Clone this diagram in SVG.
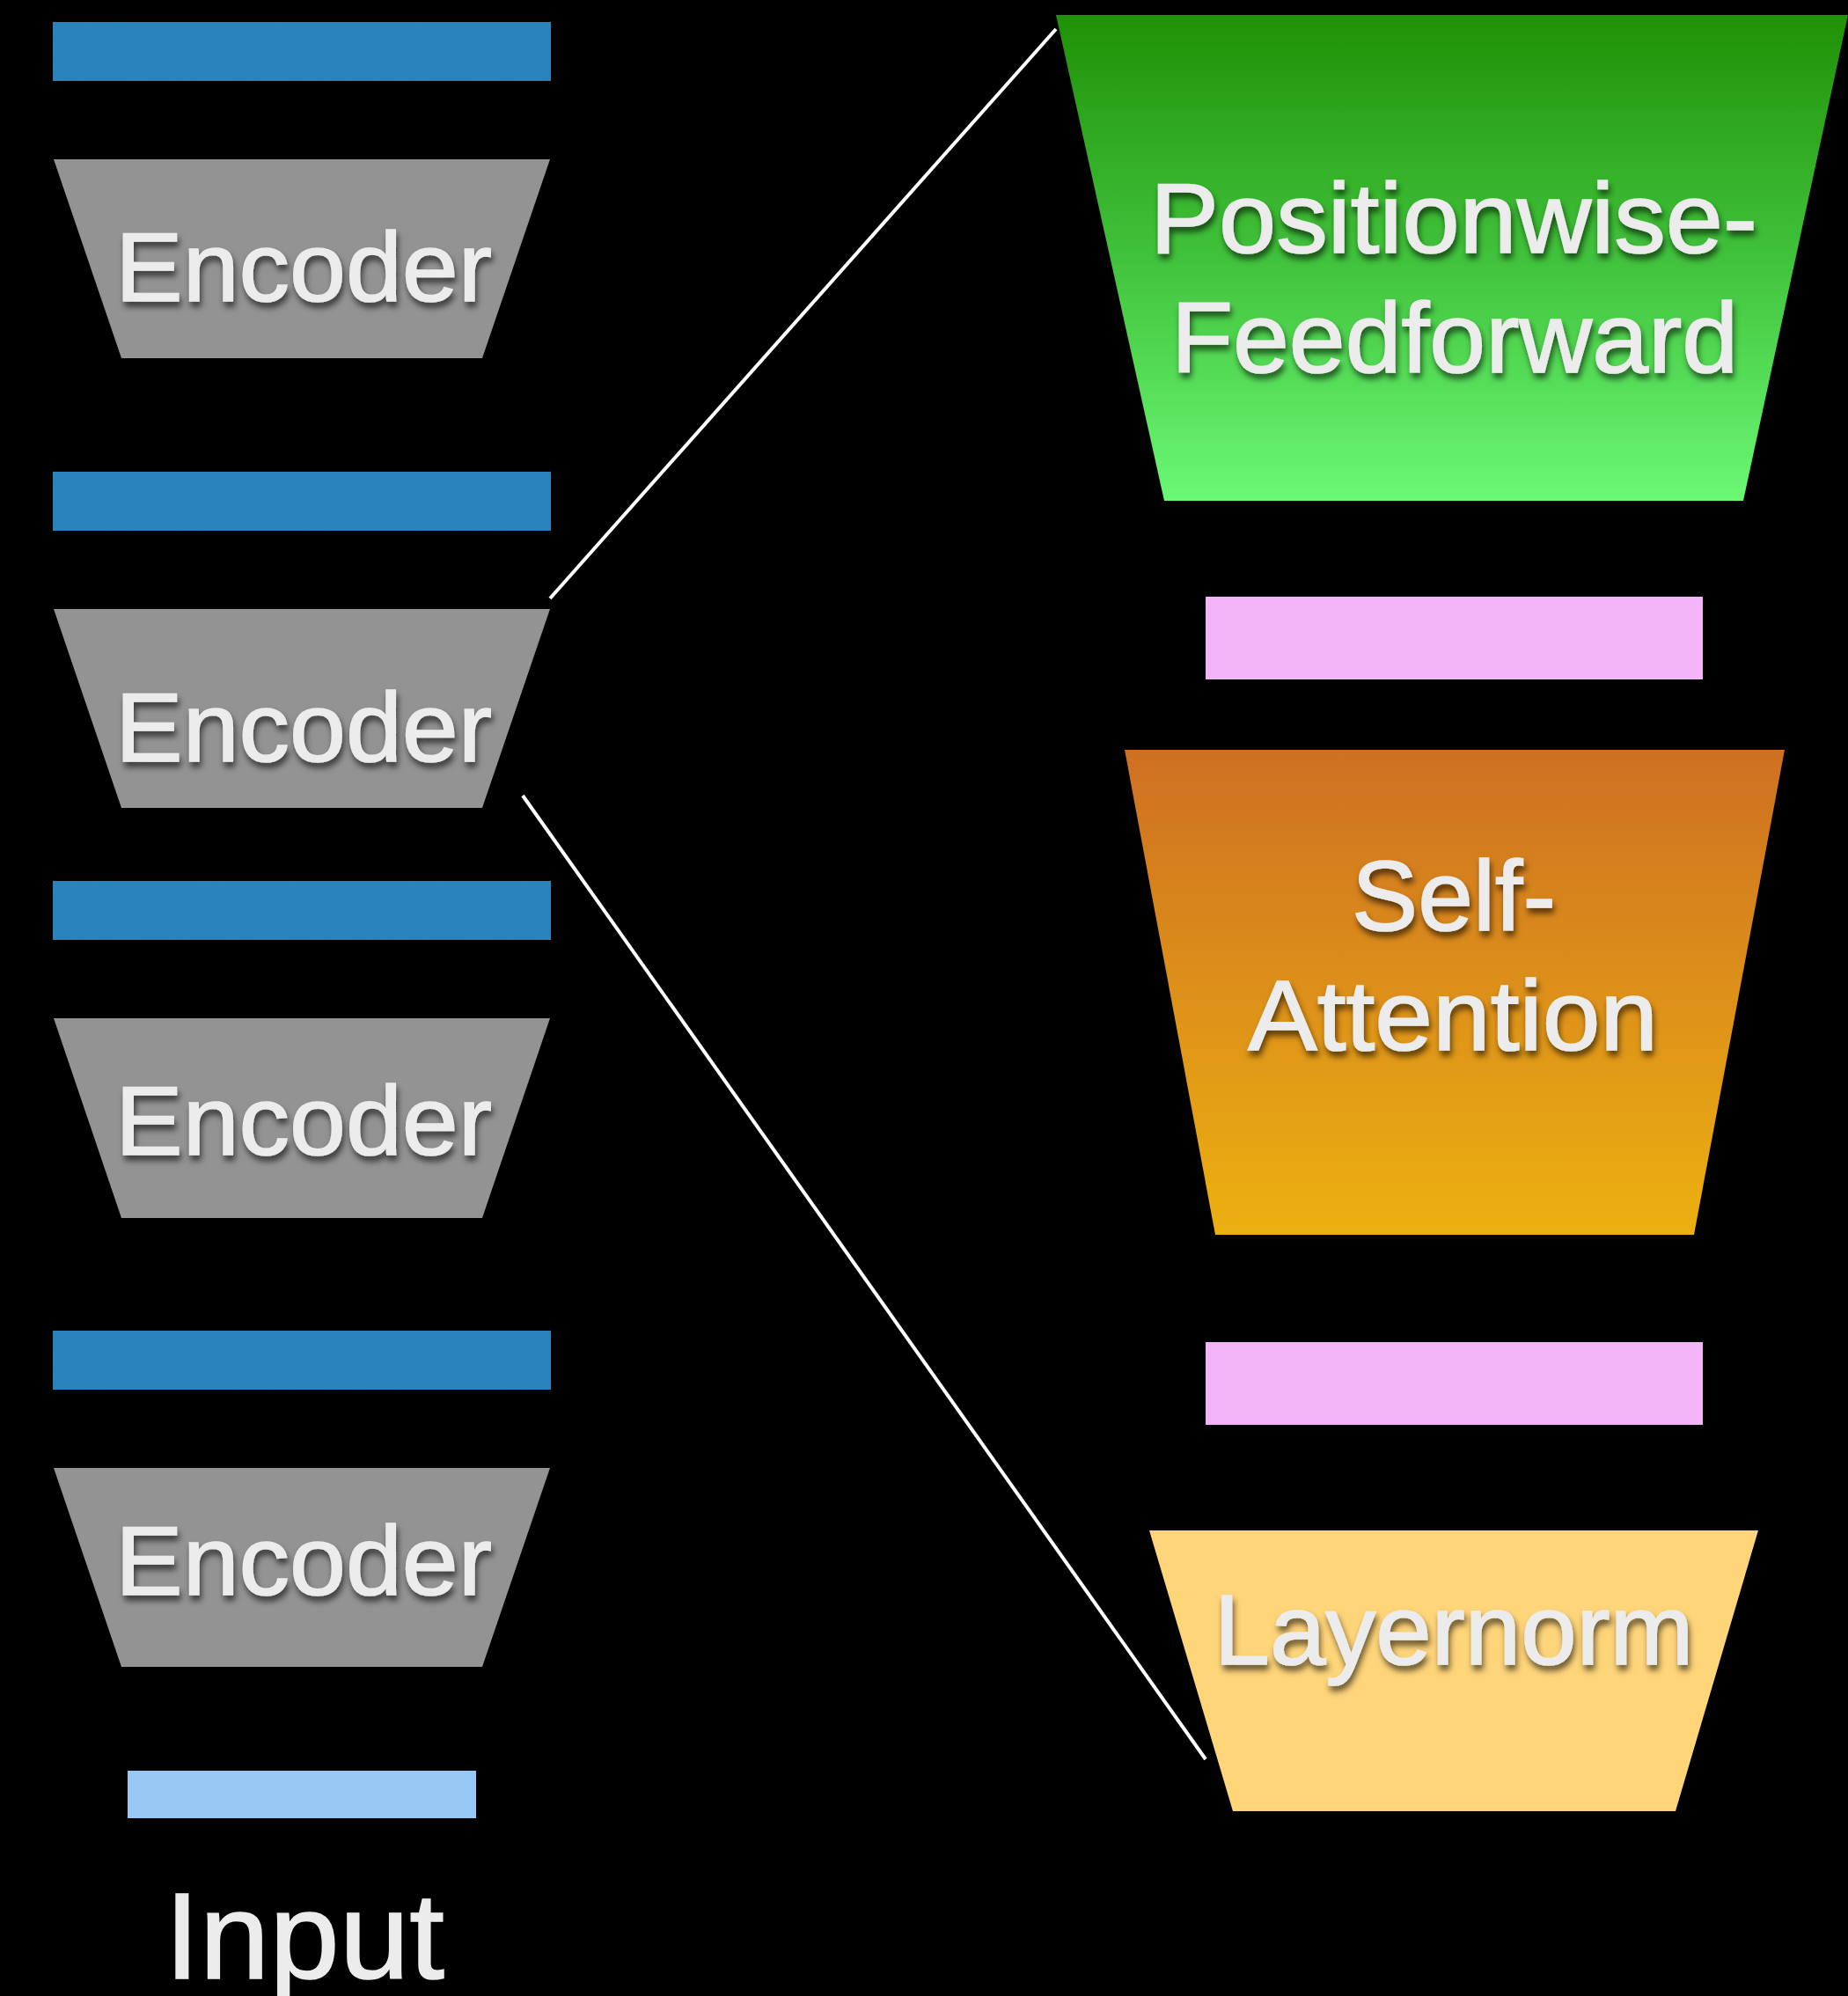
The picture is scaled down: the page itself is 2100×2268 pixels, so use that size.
<svg xmlns="http://www.w3.org/2000/svg" width="2100" height="2268" viewBox="0 0 2100 2268">
<style>
.lbl{font-family:"Liberation Sans",Arial,Helvetica,sans-serif;fill:#ececec;stroke:#ececec;stroke-width:1.6;text-anchor:middle;}
.enc-t{font-size:112px;filter:url(#shadow);}
.big-t{font-size:113px;filter:url(#shadow);}
.blue{fill:#2e87c2;filter:url(#noise);}
.gray{fill:#939393;}
.pink{fill:#f3b5f8;}
.conn{stroke:#ffffff;stroke-width:4;fill:none;}
</style>
<defs>
<filter id="shadow" x="-10%" y="-20%" width="125%" height="150%">
<feDropShadow dx="2" dy="6" stdDeviation="3.5" flood-color="#000" flood-opacity="0.6"/>
</filter>
<filter id="noise" x="0" y="0" width="100%" height="100%">
<feTurbulence type="fractalNoise" baseFrequency="0.9" numOctaves="2" seed="3" result="t"/>
<feColorMatrix in="t" type="matrix" values="0 0 0 0 0  0 0 0 0 0  0 0 0 0 0  0 0 0 0.12 0" result="n"/>
<feComposite in="n" in2="SourceGraphic" operator="in" result="nn"/>
<feMerge><feMergeNode in="SourceGraphic"/><feMergeNode in="nn"/></feMerge>
</filter>
<linearGradient id="gGreen" x1="0" y1="0" x2="0" y2="1">
<stop offset="0" stop-color="#1f9106"/>
<stop offset="0.5" stop-color="#41c23c"/>
<stop offset="1" stop-color="#6bf874"/>
</linearGradient>
<linearGradient id="gOrange" x1="0" y1="0" x2="0" y2="1">
<stop offset="0" stop-color="#ce7022"/>
<stop offset="1" stop-color="#ecb011"/>
</linearGradient>
</defs>
<rect x="0" y="0" width="2100" height="2268" fill="#000"/>

<g id="connectors">
<line class="conn" x1="625" y1="680" x2="1200" y2="33"/>
<line class="conn" x1="594" y1="904" x2="1370" y2="1999"/>
</g>

<g id="bar1"><rect class="blue" x="60" y="25" width="566" height="67"/></g>
<g id="encoder1">
<polygon class="gray" points="61,181 625,181 548,407 138,407"/>
<text class="lbl enc-t" x="345" y="342" textLength="428" lengthAdjust="spacingAndGlyphs">Encoder</text>
</g>
<g id="bar2"><rect class="blue" x="60" y="536" width="566" height="67"/></g>
<g id="encoder2">
<polygon class="gray" points="61,692 625,692 548,918 138,918"/>
<text class="lbl enc-t" x="345" y="865" textLength="428" lengthAdjust="spacingAndGlyphs">Encoder</text>
</g>
<g id="bar3"><rect class="blue" x="60" y="1001" width="566" height="67"/></g>
<g id="encoder3">
<polygon class="gray" points="61,1157 625,1157 548,1384 138,1384"/>
<text class="lbl enc-t" x="345" y="1312" textLength="428" lengthAdjust="spacingAndGlyphs">Encoder</text>
</g>
<g id="bar4"><rect class="blue" x="60" y="1512" width="566" height="67"/></g>
<g id="encoder4">
<polygon class="gray" points="61,1668 625,1668 548,1894 138,1894"/>
<text class="lbl enc-t" x="345" y="1812" textLength="428" lengthAdjust="spacingAndGlyphs">Encoder</text>
</g>
<g id="input">
<rect x="145" y="2012" width="396" height="54" fill="#97c9f4"/>
<text class="lbl" x="346" y="2248" font-size="139" textLength="318" lengthAdjust="spacingAndGlyphs">Input</text>
</g>

<g id="feedforward">
<polygon points="1200,17 2100,17 1981,569 1323,569" fill="url(#gGreen)"/>
<text class="lbl big-t" x="1652" y="287" textLength="690" lengthAdjust="spacingAndGlyphs">Positionwise-</text>
<text class="lbl big-t" x="1653" y="423" textLength="644" lengthAdjust="spacingAndGlyphs">Feedforward</text>
</g>
<g id="pink1"><rect class="pink" x="1370" y="678" width="565" height="94"/></g>
<g id="selfattention">
<polygon points="1278,852 2028,852 1925,1403 1381,1403" fill="url(#gOrange)"/>
<text class="lbl big-t" x="1652" y="1057" textLength="232" lengthAdjust="spacingAndGlyphs">Self-</text>
<text class="lbl big-t" x="1651" y="1193" textLength="466" lengthAdjust="spacingAndGlyphs">Attention</text>
</g>
<g id="pink2"><rect class="pink" x="1370" y="1525" width="565" height="94"/></g>
<g id="layernorm">
<polygon points="1306,1739 1998,1739 1904,2058 1401,2058" fill="#ffd57a"/>
<text class="lbl big-t" x="1652" y="1891" textLength="545" lengthAdjust="spacingAndGlyphs">Layernorm</text>
</g>
</svg>
